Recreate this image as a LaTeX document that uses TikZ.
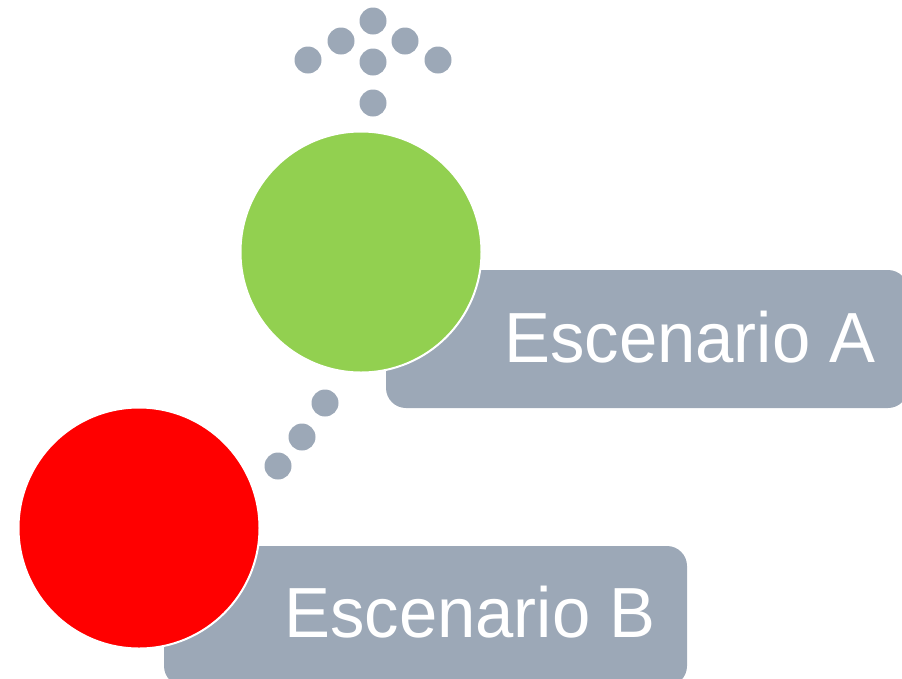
\documentclass[tikz,border=0pt]{standalone}
\usepackage{fontspec}
\setmainfont{Liberation Sans}
\definecolor{boxgrey}{HTML}{9CA8B7}
\definecolor{scgreen}{HTML}{92D050}
\definecolor{scred}{HTML}{FF0000}
\tikzset{
  labelbox/.style={fill=boxgrey, rounded corners=20pt},
  bigdisc/.style={circle, draw=white, line width=2pt, minimum size=241pt, inner sep=0pt},
  greydot/.style={circle, fill=boxgrey, minimum size=27pt, inner sep=0pt},
  labeltext/.style={anchor=base west, inner sep=0pt, text=white, xscale=0.97,
    font=\fontsize{71}{71}\selectfont}
}
\begin{document}
\begin{tikzpicture}[x=1pt,y=-1pt]
\useasboundingbox (0,0) rectangle (902,678);
% label boxes
\fill[labelbox] (386,270) rectangle (908,408);
\fill[labelbox] (164,546) rectangle (687,686);
% circles
\node[bigdisc, fill=scgreen] (ga) at (361,252) {};
\node[bigdisc, fill=scred] (rb) at (139,528) {};
% labels
\node[labeltext] (ta) at (504,362) {Escenario A};
\node[labeltext] (tb) at (284,637) {Escenario B};
% top dots (arrow)
\node[greydot] (u1) at (373,21) {};
\node[greydot] (u2) at (341,41) {};
\node[greydot] (u3) at (405,41) {};
\node[greydot] (u4) at (308,60) {};
\node[greydot] (u5) at (373,62) {};
\node[greydot] (u6) at (438,60) {};
\node[greydot] (u7) at (373,103) {};
% connecting dots
\node[greydot] (c1) at (325,403) {};
\node[greydot] (c2) at (302,437) {};
\node[greydot] (c3) at (278,466) {};
\end{tikzpicture}
\end{document}
